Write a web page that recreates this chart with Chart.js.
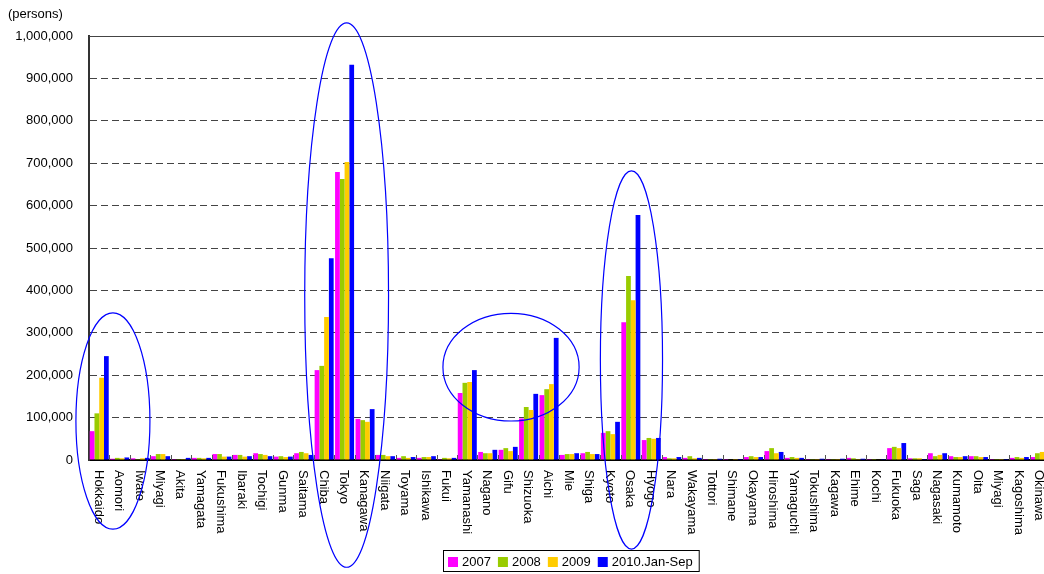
<!DOCTYPE html>
<html>
<head>
<meta charset="utf-8">
<script src="https://cdn.jsdelivr.net/npm/chart.js@4/dist/chart.umd.min.js"></script>
<style>
  html, body { margin: 0; padding: 0; background: #fff; overflow: hidden; }
  #wrap { width: 1044px; height: 574px; overflow: hidden; }
</style>
</head>
<body>
<div id="wrap"><canvas id="chart" width="1060" height="574"></canvas></div>
<script>
// prefectures (as written in the original)
const prefectures = ['Hokkaido', 'Aomori', 'Iwate', 'Miyagi', 'Akita', 'Yamagata', 'Fukushima', 'Ibaraki',
  'Tochigi', 'Gunma', 'Saitama', 'Chiba', 'Tokyo', 'Kanagawa', 'Niigata', 'Toyama', 'Ishikawa', 'Fukui',
  'Yamanashi', 'Nagano', 'Gifu', 'Shizuoka', 'Aichi', 'Mie', 'Shiga', 'Kyoto', 'Osaka', 'Hyogo', 'Nara',
  'Wakayama', 'Tottori', 'Shimane', 'Okayama', 'Hiroshima', 'Yamaguchi', 'Tokushima', 'Kagawa', 'Ehime',
  'Kochi', 'Fukuoka', 'Saga', 'Nagasaki', 'Kumamoto', 'Oita', 'Miyagi', 'Kagoshima', 'Okinawa'];

// persons
const y2007 = [68000, 3000, 4000, 9000, 2000, 5000, 14000, 12000, 16000, 8000, 16000, 212000, 679000, 97000,
  12000, 5000, 5000, 2000, 158000, 19000, 24000, 98000, 153000, 12000, 16000, 64000, 325000, 47000, 7000,
  5000, 2000, 2000, 7000, 21000, 5000, 2000, 2000, 5000, 2000, 28000, 4000, 16000, 9000, 9000, 2000, 5000, 7000];
const y2008 = [110000, 5000, 2000, 14000, 2000, 5000, 14000, 12000, 14000, 9000, 19000, 222000, 663000, 94000,
  12000, 9000, 7000, 5000, 182000, 16000, 28000, 125000, 167000, 14000, 19000, 68000, 434000, 52000, 4000,
  9000, 2000, 1000, 9000, 28000, 7000, 2000, 2000, 4000, 2000, 31000, 4000, 9000, 7000, 9000, 2000, 7000, 16000];
const y2009 = [194000, 4000, 4000, 14000, 2000, 4000, 8000, 8000, 12000, 7000, 16000, 337000, 703000, 90000,
  9000, 5000, 7000, 4000, 184000, 16000, 21000, 118000, 179000, 14000, 14000, 61000, 377000, 50000, 4000,
  4000, 2000, 2000, 7000, 16000, 5000, 2000, 2000, 2000, 1000, 28000, 4000, 12000, 7000, 7000, 2000, 5000, 19000];
const y2010 = [245000, 6000, 5000, 9000, 5000, 5000, 8000, 9000, 9000, 8000, 12000, 476000, 932000, 120000,
  9000, 7000, 9000, 5000, 212000, 24000, 31000, 156000, 288000, 16000, 14000, 90000, 578000, 52000, 7000,
  5000, 3000, 2000, 7000, 19000, 5000, 3000, 3000, 3000, 2000, 40000, 2000, 16000, 9000, 7000, 2000, 7000, 14000];

const seriesNames = ['2007', '2008', '2009', '2010.Jan-Sep'];
const seriesColors = ['#FF00FF', '#99CC00', '#FFCC00', '#0000FF'];
const yTicks = [0, 100000, 200000, 300000, 400000, 500000, 600000, 700000, 800000, 900000, 1000000];

// circles drawn on the chart: centre (category index, value), radii (categories, value)
const circles = [
  { cx: 0.67, cy: 92000, rx: 1.81, ry: 255000 },
  { cx: 12.1, cy: 389000, rx: 2.05, ry: 642000 },
  { cx: 20.14, cy: 219000, rx: 3.33, ry: 127000 },
  { cx: 26.03, cy: 236000, rx: 1.52, ry: 446000 }
];

const FONT = '13px "Liberation Sans", Arial, sans-serif';

const extras = {
  id: 'extras',
  afterDatasetsDraw(chart) {
    const ctx = chart.ctx, x = chart.scales.x, area = chart.chartArea;
    // small inside tick marks between categories
    ctx.save();
    ctx.strokeStyle = '#555';
    ctx.lineWidth = 1;
    for (let i = 0; i < prefectures.length - 1; i++) {
      const bx = Math.round((x.getPixelForValue(i) + x.getPixelForValue(i + 1)) / 2) + 0.5;
      ctx.beginPath();
      ctx.moveTo(bx, area.bottom);
      ctx.lineTo(bx, area.bottom - 5);
      ctx.stroke();
    }
    // solid top border
    ctx.strokeStyle = '#444';
    ctx.beginPath();
    ctx.moveTo(area.left, area.top + 0.5);
    ctx.lineTo(area.right, area.top + 0.5);
    ctx.stroke();
    ctx.restore();
  },
  afterDraw(chart) {
    const ctx = chart.ctx, x = chart.scales.x, y = chart.scales.y, area = chart.chartArea;
    const catW = x.getPixelForValue(1) - x.getPixelForValue(0);
    ctx.save();
    // x labels, reading top to bottom
    ctx.font = FONT;
    ctx.fillStyle = '#000';
    ctx.textAlign = 'left';
    ctx.textBaseline = 'middle';
    prefectures.forEach((p, i) => {
      ctx.save();
      ctx.translate(x.getPixelForValue(i) - 1, area.bottom + 10);
      ctx.rotate(Math.PI / 2);
      ctx.fillText(p, 0, 0);
      ctx.restore();
    });
    // unit
    ctx.fillText('(persons)', 8, 14);
    // ellipses
    ctx.strokeStyle = '#0000FF';
    ctx.lineWidth = 1.2;
    circles.forEach(c => {
      const cx = x.getPixelForValue(c.cx);
      const cy = y.getPixelForValue(c.cy);
      const rx = c.rx * catW;
      const ry = Math.abs(y.getPixelForValue(c.cy + c.ry) - cy);
      ctx.beginPath();
      ctx.ellipse(cx, cy, rx, ry, 0, 0, Math.PI * 2);
      ctx.stroke();
    });
    // legend
    let lx = 448;
    const ly = 562;
    chart.data.datasets.forEach(ds => {
      ctx.fillStyle = ds.backgroundColor;
      ctx.fillRect(lx, ly - 5, 10, 10);
      ctx.fillStyle = '#000';
      ctx.fillText(ds.label, lx + 14, ly);
      lx += 14 + ctx.measureText(ds.label).width + 7;
    });
    ctx.strokeStyle = '#000';
    ctx.lineWidth = 1;
    ctx.strokeRect(443.5, 550.5, lx - 443 - 1, 21);
    ctx.restore();
  }
};

new Chart(document.getElementById('chart'), {
  type: 'bar',
  data: {
    labels: prefectures,
    datasets: [y2007, y2008, y2009, y2010].map((d, i) => ({
      label: seriesNames[i],
      data: d,
      backgroundColor: seriesColors[i],
      borderWidth: 0,
      categoryPercentage: 0.93,
      barPercentage: 1.0
    }))
  },
  options: {
    responsive: false,
    devicePixelRatio: 1,
    animation: false,
    layout: { padding: { left: 0, right: 10, top: 36, bottom: 0 } },
    plugins: { legend: { display: false }, tooltip: { enabled: false } },
    scales: {
      x: {
        grid: { display: false },
        border: { color: '#000', width: 2 },
        ticks: { display: false },
        afterFit(scale) { scale.height = 114; }
      },
      y: {
        min: 0,
        max: 1000000,
        afterBuildTicks(scale) { scale.ticks = yTicks.map(v => ({ value: v })); },
        grid: { color: '#444', lineWidth: 1, drawTicks: false },
        border: { color: '#333', width: 2, dash: [7, 4] },
        ticks: {
          color: '#000',
          font: { family: '"Liberation Sans", Arial, sans-serif', size: 13 },
          padding: 16,
          callback: v => v.toLocaleString('en-US')
        },
        afterFit(scale) { scale.width = 89; }
      }
    }
  },
  plugins: [extras]
});
</script>
</body>
</html>
